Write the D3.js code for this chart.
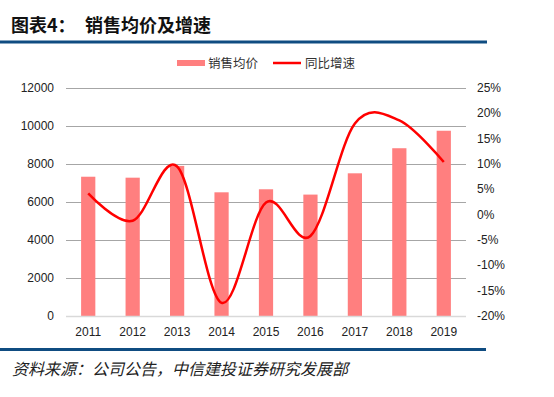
<!DOCTYPE html>
<html>
<head>
<meta charset="utf-8">
<script src="https://cdn.jsdelivr.net/npm/d3@7"></script>
<style>
  body { margin: 0; background: #fff; }
  svg { display: block; font-family: "Liberation Sans", Arial, "Noto Sans CJK SC", sans-serif; }
</style>
</head>
<body>
<svg id="chart" width="554" height="397"></svg>
<script>
// data
const years = ["2011", "2012", "2013", "2014", "2015", "2016", "2017", "2018", "2019"];
const avgPrice = [7330, 7280, 7900, 6510, 6670, 6390, 7510, 8830, 9750];
const growth = [4.2, -1.2, 9.5, -17.4, 2.4, -4.2, 18.0, 18.6, 10.4]; // %
const leftTicks = [0, 2000, 4000, 6000, 8000, 10000, 12000];
const rightTicks = [-20, -15, -10, -5, 0, 5, 10, 15, 20, 25];

const svg = d3.select("#chart");
const cjk = '"Noto Sans CJK SC", "Liberation Sans", sans-serif';

// plot area
const plotL = 66, plotR = 466, plotT = 88, plotB = 316;

const x = d3.scaleBand().domain(years).range([plotL, plotR]).paddingInner(0.68).paddingOuter(0.34);
const yL = d3.scaleLinear().domain([0, 12000]).range([plotB, plotT]);
const yR = d3.scaleLinear().domain([-20, 25]).range([plotB, plotT]);

// header
svg.append("text")
  .attr("x", 11).attr("y", 32)
  .style("font-family", cjk).style("font-size", "18px").style("font-weight", "bold")
  .attr("fill", "#111")
  .text("图表4：");
svg.append("text")
  .attr("x", 85).attr("y", 32)
  .style("font-family", cjk).style("font-size", "18px").style("font-weight", "bold")
  .attr("fill", "#111")
  .text("销售均价及增速");
svg.append("rect").attr("x", 0).attr("y", 40.5).attr("width", 487).attr("height", 3).attr("fill", "#0f4c81");

// gridlines (left axis)
svg.append("g")
  .selectAll("line")
  .data(leftTicks.filter(d => d > 0))
  .join("line")
  .attr("x1", plotL).attr("x2", plotR)
  .attr("y1", d => Math.round(yL(d)) + 0.5).attr("y2", d => Math.round(yL(d)) + 0.5)
  .attr("stroke", "#a6a6a6").attr("stroke-width", 1);

// bars
svg.append("g")
  .selectAll("rect")
  .data(years)
  .join("rect")
  .attr("x", d => x(d))
  .attr("width", x.bandwidth())
  .attr("y", (d, i) => yL(avgPrice[i]))
  .attr("height", (d, i) => plotB - yL(avgPrice[i]))
  .attr("fill", "#ff7f7f");

// baseline
svg.append("line")
  .attr("x1", plotL).attr("x2", plotR)
  .attr("y1", plotB + 0.5).attr("y2", plotB + 0.5)
  .attr("stroke", "#d9d9d9").attr("stroke-width", 1.5);

// growth line (smoothed)
const line = d3.line()
  .x((d, i) => x(years[i]) + x.bandwidth() / 2)
  .y(d => yR(d))
  .curve(d3.curveCardinal.tension(0));

svg.append("path")
  .datum(growth)
  .attr("d", line)
  .attr("fill", "none")
  .attr("stroke", "#ff0000")
  .attr("stroke-width", 2.5);

// left axis labels
svg.append("g")
  .selectAll("text")
  .data(leftTicks)
  .join("text")
  .attr("x", 54).attr("y", d => yL(d) + 4)
  .attr("text-anchor", "end")
  .style("font-size", "12px").attr("fill", "#222")
  .text(d => d);

// right axis labels
svg.append("g")
  .selectAll("text")
  .data(rightTicks)
  .join("text")
  .attr("x", 477).attr("y", d => yR(d) + 4)
  .attr("text-anchor", "start")
  .style("font-size", "12px").attr("fill", "#222")
  .text(d => d + "%");

// x labels
svg.append("g")
  .selectAll("text")
  .data(years)
  .join("text")
  .attr("x", d => x(d) + x.bandwidth() / 2).attr("y", 336)
  .attr("text-anchor", "middle")
  .style("font-size", "12px").attr("fill", "#222")
  .text(d => d);

// legend
const lg = svg.append("g");
lg.append("rect").attr("x", 177).attr("y", 60).attr("width", 28).attr("height", 6).attr("fill", "#ff7f7f");
lg.append("text").attr("x", 208).attr("y", 67.5)
  .style("font-family", cjk).style("font-size", "12.5px").attr("fill", "#333").text("销售均价");
lg.append("line").attr("x1", 273).attr("x2", 301).attr("y1", 63).attr("y2", 63)
  .attr("stroke", "#ff0000").attr("stroke-width", 2.5);
lg.append("text").attr("x", 305).attr("y", 67.5)
  .style("font-family", cjk).style("font-size", "12.5px").attr("fill", "#333").text("同比增速");

// footer
svg.append("rect").attr("x", 0).attr("y", 348).attr("width", 486).attr("height", 3).attr("fill", "#0f4c81");
svg.append("text")
  .attr("x", 12).attr("y", 375)
  .style("font-family", cjk).style("font-size", "16px").style("font-style", "italic")
  .attr("fill", "#222")
  .text("资料来源：公司公告，中信建投证券研究发展部");
</script>
</body>
</html>
